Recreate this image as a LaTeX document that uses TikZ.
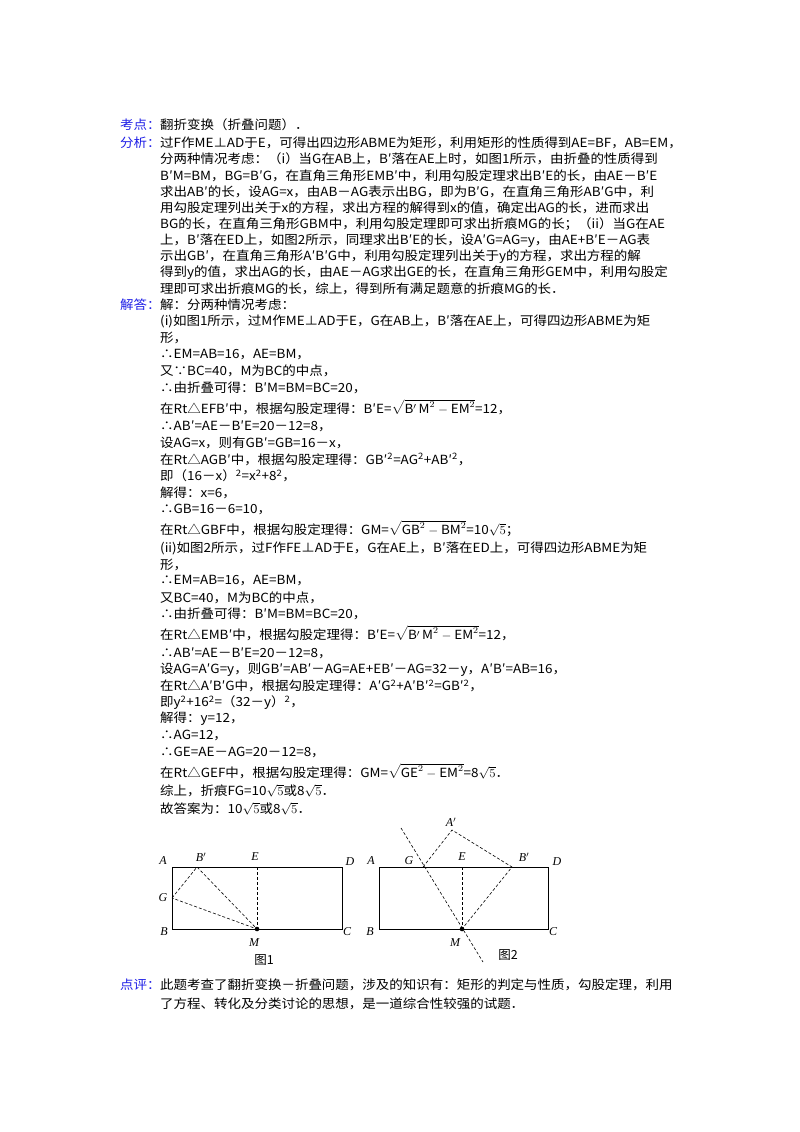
\documentclass[tikz,border=0pt]{standalone}
\usepackage{fontspec}
\setmainfont{Noto Sans CJK SC}
\newfontfamily\figf{Liberation Serif}
\usepackage{amsmath}
\definecolor{lab}{RGB}{30,30,230}
\newcommand{\sq}[1]{\textsuperscript{#1}}
\begin{document}
\begin{tikzpicture}[x=1pt,y=-1pt,
 tl/.style={anchor=west,inner sep=0pt,font=\fontsize{12.6}{14}\selectfont,transform shape,xscale=1.07},
 lb/.style={tl,text=lab},
 ds/.style={dashed,dash pattern=on 3pt off 2pt,line width=0.6pt},
 rect/.style={line width=0.8pt},
 fl/.style={inner sep=0pt,font=\fontsize{12}{13}\selectfont\figf\itshape}]
\useasboundingbox (0,0) rectangle (800,1132);
\node[lb] (k1) at (120,125) {考点：};
\node[tl] (t1) at (160,125) {翻折变换（折叠问题）．};
\node[lb] (k2) at (120,143) {分析：};
\node[tl] (a1) at (160,143) {过F作ME⊥AD于E，可得出四边形ABME为矩形，利用矩形的性质得到AE=BF，AB=EM，};
\node[tl] (a2) at (160,159.2) {分两种情况考虑：（i）当G在AB上，B′落在AE上时，如图1所示，由折叠的性质得到};
\node[tl] (a3) at (160,175.4) {B′M=BM，BG=B′G，在直角三角形EMB′中，利用勾股定理求出B′E的长，由AE－B′E};
\node[tl] (a4) at (160,191.6) {求出AB′的长，设AG=x，由AB－AG表示出BG，即为B′G，在直角三角形AB′G中，利};
\node[tl] (a5) at (160,207.8) {用勾股定理列出关于x的方程，求出方程的解得到x的值，确定出AG的长，进而求出};
\node[tl] (a6) at (160,224) {BG的长，在直角三角形GBM中，利用勾股定理即可求出折痕MG的长；（ii）当G在AE};
\node[tl] (a7) at (160,240.2) {上，B′落在ED上，如图2所示，同理求出B′E的长，设A′G=AG=y，由AE+B′E－AG表};
\node[tl] (a8) at (160,256.4) {示出GB′，在直角三角形A′B′G中，利用勾股定理列出关于y的方程，求出方程的解};
\node[tl] (a9) at (160,272.6) {得到y的值，求出AG的长，由AE－AG求出GE的长，在直角三角形GEM中，利用勾股定};
\node[tl] (a10) at (160,288.8) {理即可求出折痕MG的长，综上，得到所有满足题意的折痕MG的长．};
\node[lb] (k3) at (120,305) {解答：};
\node[tl] (b0) at (160,305) {解：分两种情况考虑：};
\node[tl] (b1) at (160,321.5) {(i)如图1所示，过M作ME⊥AD于E，G在AB上，B′落在AE上，可得四边形ABME为矩};
\node[tl] (b2) at (160,338) {形，};
\node[tl] (b3) at (160,354.5) {∴EM=AB=16，AE=BM，};
\node[tl] (b4) at (160,371) {又∵BC=40，M为BC的中点，};
\node[tl] (b5) at (160,387.5) {∴由折叠可得：B′M=BM=BC=20，};
\node[tl] (b6) at (160,407) {在Rt△EFB′中，根据勾股定理得：B′E=$\sqrt{\mathrm{B'\,M}^2-\mathrm{EM}^2}$=12，};
\node[tl] (b7) at (160,426.5) {∴AB′=AE－B′E=20－12=8，};
\node[tl] (b8) at (160,443) {设AG=x，则有GB′=GB=16－x，};
\node[tl] (b9) at (160,459.5) {在Rt△AGB′中，根据勾股定理得：GB′\sq{2}=AG\sq{2}+AB′\sq{2}，};
\node[tl] (b10) at (160,476) {即（16－x）\sq{2}=x\sq{2}+8\sq{2}，};
\node[tl] (b11) at (160,492.5) {解得：x=6，};
\node[tl] (b12) at (160,509) {∴GB=16－6=10，};
\node[tl] (b13) at (160,528.5) {在Rt△GBF中，根据勾股定理得：GM=$\sqrt{\mathrm{GB}^2-\mathrm{BM}^2}$=10$\sqrt{5}$；};
\node[tl] (b14) at (160,548) {(ii)如图2所示，过F作FE⊥AD于E，G在AE上，B′落在ED上，可得四边形ABME为矩};
\node[tl] (c1) at (160,564.5) {形，};
\node[tl] (c2) at (160,581) {∴EM=AB=16，AE=BM，};
\node[tl] (c3) at (160,597.5) {又BC=40，M为BC的中点，};
\node[tl] (c4) at (160,614) {∴由折叠可得：B′M=BM=BC=20，};
\node[tl] (c5) at (160,633.5) {在Rt△EMB′中，根据勾股定理得：B′E=$\sqrt{\mathrm{B'\,M}^2-\mathrm{EM}^2}$=12，};
\node[tl] (c6) at (160,653) {∴AB′=AE－B′E=20－12=8，};
\node[tl] (c7) at (160,669.5) {设AG=A′G=y，则GB′=AB′－AG=AE+EB′－AG=32－y，A′B′=AB=16，};
\node[tl] (c8) at (160,686) {在Rt△A′B′G中，根据勾股定理得：A′G\sq{2}+A′B′\sq{2}=GB′\sq{2}，};
\node[tl] (c9) at (160,702.5) {即y\sq{2}+16\sq{2}=（32－y）\sq{2}，};
\node[tl] (c10) at (160,719) {解得：y=12，};
\node[tl] (c11) at (160,735.5) {∴AG=12，};
\node[tl] (c12) at (160,752) {∴GE=AE－AG=20－12=8，};
\node[tl] (c13) at (160,771.5) {在Rt△GEF中，根据勾股定理得：GM=$\sqrt{\mathrm{GE}^2-\mathrm{EM}^2}$=8$\sqrt{5}$．};
\node[tl] (c14) at (160,791) {综上，折痕FG=10$\sqrt{5}$或8$\sqrt{5}$．};
\node[tl] (c15) at (160,809) {故答案为：10$\sqrt{5}$或8$\sqrt{5}$．};
% figure 1
\coordinate (A1) at (172,867); \coordinate (D1) at (342,867);
\coordinate (B1) at (172,929); \coordinate (C1) at (342,929);
\coordinate (M1) at (257,929); \coordinate (E1) at (257,867);
\coordinate (P1) at (197,867); \coordinate (G1) at (172,898);
\draw[rect] (A1) rectangle (C1);
\draw[ds] (G1) -- (P1) -- (M1) -- (G1);
\draw[ds] (E1) -- (M1);
\fill (M1) circle (2.3pt);
\node[fl] (lA1) at (163,861) {A};
\node[fl] (lP1) at (201,857) {B$'$};
\node[fl] (lE1) at (255,857) {E};
\node[fl] (lD1) at (350,862) {D};
\node[fl] (lG1) at (163,898) {G};
\node[fl] (lB1) at (164,932) {B};
\node[fl] (lM1) at (254,943) {M};
\node[fl] (lC1) at (347,932) {C};
\node[inner sep=0pt,font=\fontsize{12.5}{13}\selectfont] (f1) at (264,960) {图1};
% figure 2
\coordinate (A2) at (379,867); \coordinate (D2) at (548,867);
\coordinate (B2) at (379,929); \coordinate (C2) at (548,929);
\coordinate (M2) at (462,929); \coordinate (E2) at (462,867);
\coordinate (G2) at (423,867); \coordinate (P2) at (512,867);
\coordinate (Q2) at (452,830);
\coordinate (T2) at (401,828); \coordinate (U2) at (483,962);
\draw[rect] (A2) rectangle (C2);
\draw[ds] (T2) -- (U2);
\draw[ds] (G2) -- (Q2) -- (P2) -- (M2);
\draw[ds] (E2) -- (M2);
\fill (M2) circle (2.3pt);
\node[fl] (lA2) at (371,861) {A};
\node[fl] (lG2) at (409,861) {G};
\node[fl] (lE2) at (462,857) {E};
\node[fl] (lP2) at (524,857) {B$'$};
\node[fl] (lD2) at (557,862) {D};
\node[fl] (lQ2) at (451,822) {A$'$};
\node[fl] (lB2) at (370,932) {B};
\node[fl] (lM2) at (455,943) {M};
\node[fl] (lC2) at (553,932) {C};
\node[inner sep=0pt,font=\fontsize{12.5}{13}\selectfont] (f2) at (508,955) {图2};
\node[lb] (k4) at (120,985) {点评：};
\node[tl] (d1) at (160,985) {此题考查了翻折变换－折叠问题，涉及的知识有：矩形的判定与性质，勾股定理，利用};
\node[tl] (d2) at (160,1004) {了方程、转化及分类讨论的思想，是一道综合性较强的试题．};
\end{tikzpicture}
\end{document}
